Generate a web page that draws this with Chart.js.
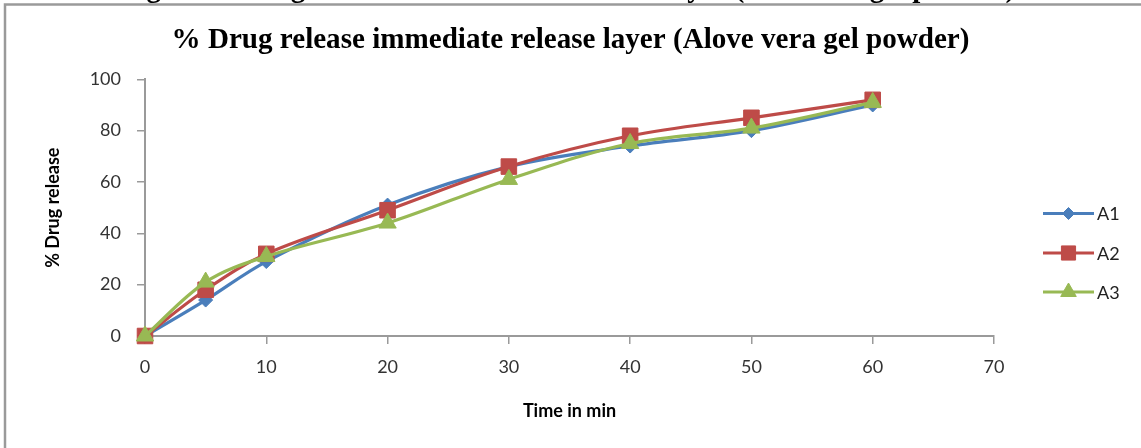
<!DOCTYPE html>
<html>
<head>
<meta charset="utf-8">
<script src="https://cdn.jsdelivr.net/npm/chart.js@4/dist/chart.umd.min.js"></script>
<style>
  html, body { margin: 0; padding: 0; background: #fff; }
  #wrap { width: 1141px; height: 448px; position: relative; }
</style>
</head>
<body>
<div id="wrap"><canvas id="c" width="1141" height="448"></canvas></div>
<script>
// ---- data ----
const timeMin = [0, 5, 10, 20, 30, 40, 50, 60];
const seriesA1 = [0, 14, 29, 51, 66, 74, 80, 90];
const seriesA2 = [0, 18, 32, 49, 66, 78, 85, 92];
const seriesA3 = [0, 21, 31, 44, 61, 75, 81, 91];
const seriesNames = ['A1', 'A2', 'A3'];
const xTicks = [0, 10, 20, 30, 40, 50, 60, 70];
const yTicks = [0, 20, 40, 60, 80, 100];
const chartTitle = '% Drug release immediate release layer (Alove vera gel powder)';
const clippedCaption = 'Figure 6: Drug release of immediate release layer (Aloe vera gel powder)';
const xTitle = 'Time in min';
const yTitle = '% Drug release';

const colors = ['#4A7EBB', '#BE4B48', '#98B954'];
const styles = ['rectRot', 'rect', 'triangle'];
const radii = [7, 11, 10];

function pts(vals) { return timeMin.map((t, i) => ({x: t, y: vals[i]})); }

// fit title font to measured width
const mctx = document.createElement('canvas').getContext('2d');
mctx.font = 'bold 24px "Liberation Serif"';
const titleSize = Math.round(24 * 797 / mctx.measureText(chartTitle).width * 10) / 10;

const frame = {
  id: 'frame',
  beforeDraw(chart) {
    const ctx = chart.ctx;
    ctx.save();
    ctx.fillStyle = '#fff';
    ctx.fillRect(0, 0, chart.width, chart.height);
    ctx.font = 'bold 24px "Liberation Serif"';
    const w = ctx.measureText(clippedCaption).width;
    const fs = 24 * 895 / w;
    ctx.font = 'bold ' + fs + 'px "Liberation Serif"';
    ctx.fillStyle = '#000';
    ctx.textAlign = 'center';
    ctx.textBaseline = 'alphabetic';
    ctx.fillText(clippedCaption, 568, -3);
    ctx.strokeStyle = '#9a9a9a';
    ctx.lineWidth = 2.5;
    ctx.beginPath();
    ctx.moveTo(5, 460);
    ctx.lineTo(5, 4.5);
    ctx.lineTo(1141, 4.5);
    ctx.stroke();
    ctx.restore();
  }
};

const sideLegend = {
  id: 'sideLegend',
  afterDraw(chart) {
    const ctx = chart.ctx;
    const ys = [213.5, 253, 292];
    const lr = [6, 10, 9];
    ctx.save();
    chart.data.datasets.forEach((ds, i) => {
      const y = ys[i];
      ctx.strokeStyle = ds.borderColor;
      ctx.lineWidth = 3;
      ctx.beginPath();
      ctx.moveTo(1043, y);
      ctx.lineTo(1094, y);
      ctx.stroke();
      ctx.fillStyle = ds.pointBackgroundColor;
      ctx.strokeStyle = ds.pointBorderColor;
      ctx.lineWidth = 1;
      Chart.helpers.drawPoint(ctx, {pointStyle: ds.pointStyle, radius: lr[i], borderWidth: 1, rotation: 0}, 1068.5, y);
      ctx.fillStyle = '#222';
      ctx.font = '18px Lato';
      ctx.textAlign = 'left';
      ctx.textBaseline = 'middle';
      ctx.fillText(ds.label, 1097, y + 1);
    });
    ctx.restore();
  }
};

const datasets = [seriesA1, seriesA2, seriesA3].map((vals, i) => ({
  label: seriesNames[i],
  data: pts(vals),
  borderColor: colors[i],
  backgroundColor: colors[i],
  pointBackgroundColor: colors[i],
  pointBorderColor: colors[i],
  pointStyle: styles[i],
  pointRadius: radii[i],
  pointBorderWidth: 1,
  borderWidth: 3.2,
  tension: 0.35,
  order: 3 - i,
  fill: false,
  clip: false
}));

new Chart(document.getElementById('c'), {
  type: 'line',
  data: { datasets },
  options: {
    responsive: false,
    animation: false,
    devicePixelRatio: 1,
    layout: { padding: 0 },
    plugins: {
      legend: { display: false },
      tooltip: { enabled: false },
      title: {
        display: true,
        text: chartTitle,
        color: '#000',
        font: { family: 'Liberation Serif', weight: 'bold', size: titleSize },
        padding: { top: 40 - titleSize * 0.6, bottom: 79.3 - 40 - titleSize * 0.6 }
      }
    },
    scales: {
      x: {
        type: 'linear',
        min: 0, max: 70,
        afterBuildTicks(s) { s.ticks = xTicks.map(v => ({value: v})); },
        afterFit(s) { s.height = 112; },
        grid: { display: true, drawOnChartArea: false, drawTicks: true, tickLength: 8, color: '#9a9a9a', lineWidth: 1.5 },
        border: { color: '#9a9a9a', width: 2 },
        ticks: { color: '#333', font: { family: 'Lato', size: 18 }, padding: 12, maxRotation: 0 },
        title: { display: true, text: xTitle, color: '#000', font: { family: 'Lato', weight: 'bold', size: 18 }, padding: { top: 0, bottom: 26 } }
      },
      y: {
        min: 0, max: 100,
        afterBuildTicks(s) { s.ticks = yTicks.map(v => ({value: v})); },
        afterFit(s) { s.width = 145; },
        grid: { display: true, drawOnChartArea: false, drawTicks: true, tickLength: 8, color: '#9a9a9a', lineWidth: 1.5 },
        border: { color: '#9a9a9a', width: 2 },
        ticks: { color: '#333', font: { family: 'Lato', size: 18 }, padding: 16 },
        title: { display: true, text: yTitle, color: '#000', font: { family: 'Lato', weight: 'bold', size: 18 }, padding: { top: 42, bottom: 0 } }
      },
      legendSpace: {
        type: 'linear',
        position: 'right',
        display: true,
        afterFit(s) { s.width = 147; },
        grid: { display: false, drawTicks: false },
        border: { display: false },
        ticks: { display: false }
      }
    }
  },
  plugins: [frame, sideLegend]
});
</script>
</body>
</html>
